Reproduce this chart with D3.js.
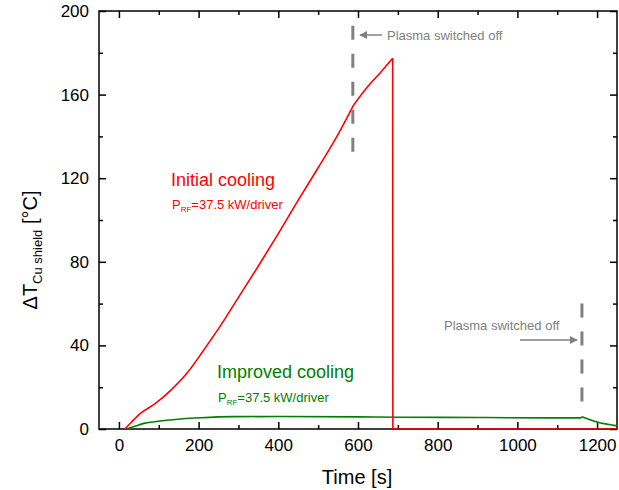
<!DOCTYPE html>
<html><head><meta charset="utf-8">
<script src="https://cdn.jsdelivr.net/npm/d3@7"></script>
<style>body{margin:0;background:#fff}text{font-family:"Liberation Sans",Arial,sans-serif}</style>
</head><body><svg id="c" width="619" height="490"></svg>
<script>
// Data
const initialTime = [15, 30, 54, 90, 130, 170, 210, 250, 300, 350, 400, 450, 500, 550, 589, 623, 656, 687, 687.5, 1250];
const initialDT   = [0, 3, 7.5, 12, 18.5, 26.5, 37, 48, 63, 78, 93.5, 109.5, 125, 141, 155, 163.5, 170.5, 177.4, 0, 0];
const improvedTime = [20, 40, 63, 90, 121, 160, 205, 288, 405, 600, 706, 900, 1083, 1158, 1162, 1200, 1250];
const improvedDT   = [0, 1.3, 2.7, 3.5, 4.2, 4.9, 5.4, 5.9, 6.0, 5.8, 5.6, 5.5, 5.3, 5.3, 5.9, 3.3, 1.5];
const xTicks = [0, 200, 400, 600, 800, 1000, 1200];
const yTicks = [0, 40, 80, 120, 160, 200];
const switchOff = [{t: 587, y0: 130, y1: 193}, {t: 1162, y0: 11.5, y1: 60}];

const svg = d3.select("#c");
const L = 99, R = 617, T = 11, B = 429;
const x = d3.scaleLinear().domain([-50, 1250]).range([L, R]);
const y = d3.scaleLinear().domain([0, 200]).range([B, T]);

const minorX = d3.range(0, 1250, 100);
const minorY = d3.range(0, 201, 20);
function axisG(axis, tr){ return svg.append("g").attr("transform", tr).call(axis); }
const bx = axisG(d3.axisBottom(x).tickValues(xTicks).tickSize(-7).tickPadding(10).tickFormat(d3.format("d")), `translate(0,${B})`);
axisG(d3.axisBottom(x).tickValues(minorX.filter(v=>v%200)).tickSize(-4).tickFormat(""), `translate(0,${B})`);
axisG(d3.axisTop(x).tickValues(xTicks).tickSize(-7).tickFormat(""), `translate(0,${T})`);
axisG(d3.axisTop(x).tickValues(minorX.filter(v=>v%200)).tickSize(-4).tickFormat(""), `translate(0,${T})`);
axisG(d3.axisLeft(y).tickValues(yTicks).tickSize(-7).tickPadding(10), `translate(${L},0)`);
axisG(d3.axisLeft(y).tickValues(minorY.filter(v=>v%40)).tickSize(-4).tickFormat(""), `translate(${L},0)`);
axisG(d3.axisRight(y).tickValues(yTicks).tickSize(-7).tickFormat(""), `translate(${R},0)`);
axisG(d3.axisRight(y).tickValues(minorY.filter(v=>v%40)).tickSize(-4).tickFormat(""), `translate(${R},0)`);
svg.selectAll(".domain").remove();
svg.selectAll(".tick line").attr("stroke", "#000").attr("stroke-width", 1.5);
svg.selectAll(".tick text").attr("font-size", 17).attr("fill", "#000").style("font-family", '"Liberation Sans",Arial,sans-serif');
bx.selectAll(".tick text").attr("dy", "0.71em");
svg.append("rect").attr("x", L).attr("y", T).attr("width", R - L).attr("height", B - T)
  .attr("fill", "none").attr("stroke", "#000").attr("stroke-width", 1.5);

svg.append("clipPath").attr("id", "cp").append("rect").attr("x", L).attr("y", T).attr("width", R-L).attr("height", B-T);
const line = d3.line().x(d => x(d[0])).y(d => y(d[1])).curve(d3.curveMonotoneX);
const lineLin = d3.line().x(d => x(d[0])).y(d => y(d[1]));
const g = svg.append("g").attr("clip-path", "url(#cp)");
const grnPts = improvedTime.map((t,i)=>[t, improvedDT[i]]);
g.append("path").datum(grnPts.slice(0, 15)).attr("d", line).attr("fill", "none").attr("stroke", "#008000").attr("stroke-width", 1.6);
g.append("path").datum(grnPts.slice(14)).attr("d", line).attr("fill", "none").attr("stroke", "#008000").attr("stroke-width", 1.6);
const redPts = initialTime.map((t,i)=>[t, initialDT[i]]);
g.append("path").datum(redPts.slice(0, 15)).attr("d", line).attr("fill", "none").attr("stroke", "#ff0000").attr("stroke-width", 1.6);
g.append("path").datum(redPts.slice(14, 18)).attr("d", line).attr("fill", "none").attr("stroke", "#ff0000").attr("stroke-width", 1.6);
g.append("path").datum(redPts.slice(17)).attr("d", lineLin).attr("fill", "none").attr("stroke", "#ff0000").attr("stroke-width", 1.6);

switchOff.forEach(s => {
  svg.append("line").attr("x1", x(s.t)).attr("x2", x(s.t)).attr("y1", y(s.y1)).attr("y2", y(s.y0))
    .attr("stroke", "#808080").attr("stroke-width", 3).attr("stroke-dasharray", "14,14");
});
svg.append("defs").append("marker").attr("id", "ah").attr("viewBox", "0 0 10 10").attr("refX", 9).attr("refY", 5)
  .attr("markerWidth", 8).attr("markerHeight", 8).attr("markerUnits", "userSpaceOnUse").attr("orient", "auto")
  .append("path").attr("d", "M0,0L10,5L0,10z").attr("fill", "#808080");
svg.append("line").attr("x1", 382).attr("x2", 360).attr("y1", 35).attr("y2", 35).attr("stroke", "#808080").attr("stroke-width", 1.5).attr("marker-end", "url(#ah)");
svg.append("text").attr("x", 387).attr("y", 40).attr("font-size", 13).attr("fill", "#808080").text("Plasma switched off");
svg.append("line").attr("x1", 520).attr("x2", 577).attr("y1", 340).attr("y2", 340).attr("stroke", "#808080").attr("stroke-width", 1.5).attr("marker-end", "url(#ah)");
svg.append("text").attr("x", 444).attr("y", 330).attr("font-size", 13).attr("fill", "#808080").text("Plasma switched off");

function prf(xp, yp, col){
  const t = svg.append("text").attr("x", xp).attr("y", yp).attr("font-size", 13).attr("fill", col);
  t.append("tspan").text("P");
  t.append("tspan").attr("font-size", 8).attr("dy", 3).text("RF");
  t.append("tspan").attr("dy", -3).text("=37.5 kW/driver");
}
svg.append("text").attr("x", 171).attr("y", 186).attr("font-size", 18).attr("fill", "#ff0000").text("Initial cooling");
prf(172, 209, "#ff0000");
svg.append("text").attr("x", 217).attr("y", 378).attr("font-size", 18).attr("fill", "#008000").text("Improved cooling");
prf(218, 402, "#008000");

svg.append("text").attr("x", (L+R)/2 - 1).attr("y", 484).attr("text-anchor", "middle").attr("font-size", 20).text("Time [s]");
const yt = svg.append("text").attr("transform", "translate(37,250) rotate(-90)").attr("text-anchor", "middle").attr("font-size", 20);
yt.append("tspan").text("\u0394T");
yt.append("tspan").attr("font-size", 13).attr("dy", 5).text("Cu shield");
yt.append("tspan").attr("dy", -5).text(" [\u00B0C]");
</script></body></html>
